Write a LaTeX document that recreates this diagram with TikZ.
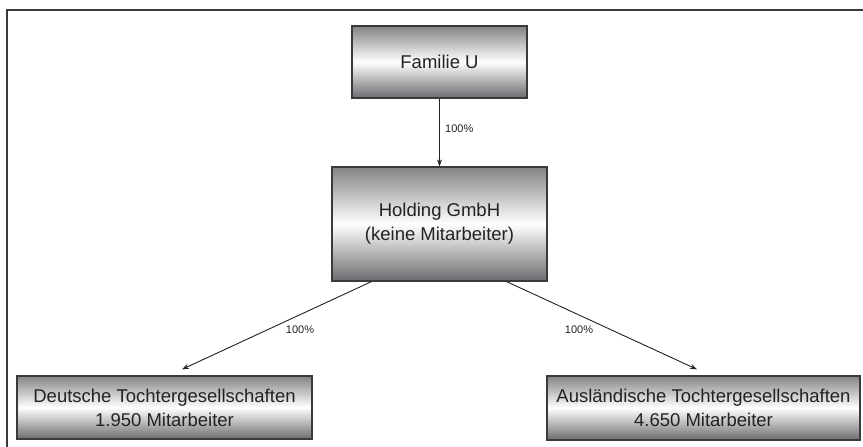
\documentclass[tikz,border=0pt]{standalone}
\usepackage{fontspec}
\setmainfont{Liberation Sans}
\usetikzlibrary{arrows.meta}
\definecolor{boxtop}{HTML}{848486}
\definecolor{boxbot}{HTML}{6C6C70}
\definecolor{frameline}{HTML}{3A3A3A}
\definecolor{txt}{HTML}{222222}
\tikzset{
  orgbox/.style={draw=frameline, line width=1.3pt, rectangle, top color=boxtop, bottom color=boxbot, middle color=white,
    align=center, text=txt, font=\fontsize{18.5}{24}\selectfont, inner sep=0pt},
  link/.style={draw=txt, line width=0.9pt, -{Stealth[length=7pt,width=5pt]}},
  pct/.style={font=\fontsize{11}{13}\selectfont, text=txt, inner sep=0pt}
}
\begin{document}
\begin{tikzpicture}[x=1pt,y=-1pt]
\useasboundingbox (0,0) rectangle (863,447);
\draw[frameline, line width=1.4pt] (7,460) -- (7,10) -- (875,10);
\node[orgbox, minimum width=175pt, minimum height=72pt] (fam) at (439.5,62) {Familie U};
\node[orgbox, minimum width=215pt, minimum height=114pt] (hold) at (439.5,224) {Holding GmbH\\(keine Mitarbeiter)};
\node[orgbox, minimum width=295pt, minimum height=63pt] (deu) at (164.5,407.5) {Deutsche Tochtergesellschaften\\1.950 Mitarbeiter};
\node[orgbox, minimum width=313pt, minimum height=64pt] (aus) at (703.5,408) {Ausländische Tochtergesellschaften\\4.650 Mitarbeiter};
\coordinate (dl) at ([xshift=17.5pt,yshift=6pt]deu.north);
\coordinate (al) at ([xshift=-6.5pt,yshift=6pt]aus.north);
\draw[link] (fam.south) -- (hold.north);
\draw[link] ([xshift=40pt]hold.south west) -- (dl);
\draw[link] ([xshift=-41pt]hold.south east) -- (al);
\node[pct, anchor=west] (p1) at (445,129) {100\%};
\node[pct] (p2) at (300,330) {100\%};
\node[pct] (p3) at (579,330) {100\%};
\end{tikzpicture}
\end{document}
